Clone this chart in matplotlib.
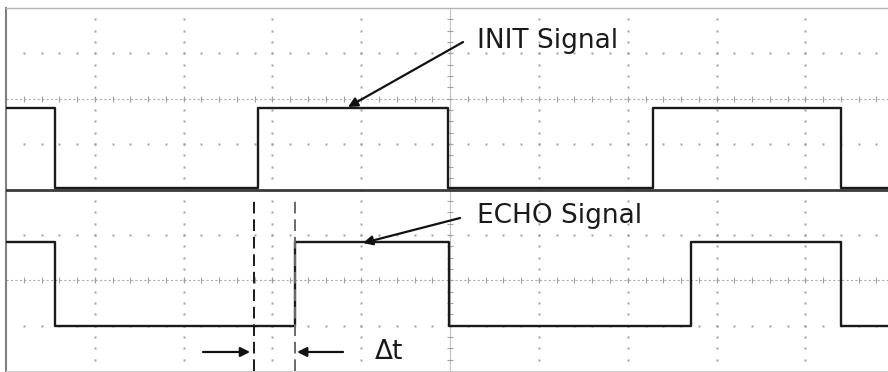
import numpy as np
import matplotlib
matplotlib.use('Agg')
import matplotlib.pyplot as plt

# scope screen: 10 x 8 divisions, time axis in divisions
xmax = 9.93
ymax = 8.0

# INIT trace (upper half): edge times and levels
init_edges = [0.0, 0.552, 2.838, 4.977, 7.286, 9.403, xmax]
init_levels = [5.80, 4.03, 5.80, 4.03, 5.80, 4.03, 4.03]

# ECHO trace (lower half)
echo_edges = [0.0, 0.552, 3.255, 4.989, 7.714, 9.403, xmax]
echo_levels = [2.84, 0.99, 2.84, 0.99, 2.84, 0.99, 0.99]

# cursor lines marking the delay
cursor_x = [2.793, 3.255]

fig = plt.figure(figsize=(8.88, 3.72), dpi=100)
ax = fig.add_axes([6/888, 1/372, 1 - 6/888, 363/372])
ax.set_xlim(0, xmax)
ax.set_ylim(0, ymax)
ax.set_xticks([])
ax.set_yticks([])
ax.spines['right'].set_visible(False)
ax.spines['left'].set_color('#808080')
ax.spines['left'].set_linewidth(1.5)
ax.spines['top'].set_color('#b4b4b4')
ax.spines['top'].set_linewidth(1.0)
ax.spines['bottom'].set_color('#cccccc')
ax.spines['bottom'].set_linewidth(0.8)

gc = '#a0a0a0'
# dotted graticule
for gy in [1, 3, 5, 7]:
    gx = np.arange(0.2, xmax, 0.2)
    ax.plot(gx, np.full_like(gx, gy), 's', ms=1.5, color=gc, mec='none')
for gx in [1, 2, 3, 4, 6, 7, 8, 9]:
    gy = np.arange(0.25, ymax, 0.25)
    ax.plot(np.full_like(gy, gx), gy, 's', ms=1.5, color=gc, mec='none')

# centre lines of each half, with minor ticks
for gy in [2, 6]:
    ax.axhline(gy, color='#b0b0b0', lw=0.8, ls=(0, (2, 2)))
    gx = np.arange(0.2, xmax, 0.2)
    ax.plot(gx, np.full_like(gx, gy), '|', ms=4, color=gc, mew=0.8)
ax.axvline(5, color='#c0c0c0', lw=0.8)
gy = np.arange(0.25, ymax, 0.25)
ax.plot(np.full_like(gy, 5), gy, '_', ms=5, color=gc, mew=0.8)

# divider between the two channels
ax.axhline(4, color='#3a3a3a', lw=2.0, zorder=3)

# traces
ax.plot(init_edges, init_levels, drawstyle='steps-post', color='#1a1a1a', lw=1.7, zorder=4)
ax.plot(echo_edges, echo_levels, drawstyle='steps-post', color='#1a1a1a', lw=1.7, zorder=4)

# cursors
ax.plot([cursor_x[0]] * 2, [0, 3.83], color='#1a1a1a', lw=1.4, ls=(0, (6, 3)), zorder=5)
ax.plot([cursor_x[1]] * 2, [0, 3.83], color='#6a6a6a', lw=1.4, ls=(0, (6, 3)), zorder=5)

arrow = dict(arrowstyle='-|>', color='#111111', lw=1.6, mutation_scale=14, shrinkA=0, shrinkB=0)
ax.annotate('', xy=(3.851, 5.818), xytext=(5.146, 7.25), arrowprops=arrow, zorder=6)
ax.annotate('', xy=(4.020, 2.821), xytext=(5.113, 3.372), arrowprops=arrow, zorder=6)
ax.annotate('', xy=(cursor_x[0] - 0.045, 0.419), xytext=(2.218, 0.419), arrowprops=arrow, zorder=6)
ax.annotate('', xy=(cursor_x[1] + 0.022, 0.419), xytext=(3.795, 0.419), arrowprops=arrow, zorder=6)

tkw = dict(fontsize=19, color='#1a1a1a', family='DejaVu Sans', va='baseline', ha='left', zorder=7)
ax.text(5.30, 7.12, 'INIT Signal', **tkw)
ax.text(5.30, 3.26, 'ECHO Signal', **tkw)
ax.text(4.155, 0.26, 'Δt', **tkw)

fig.savefig('out.png', dpi=100, facecolor='white')
